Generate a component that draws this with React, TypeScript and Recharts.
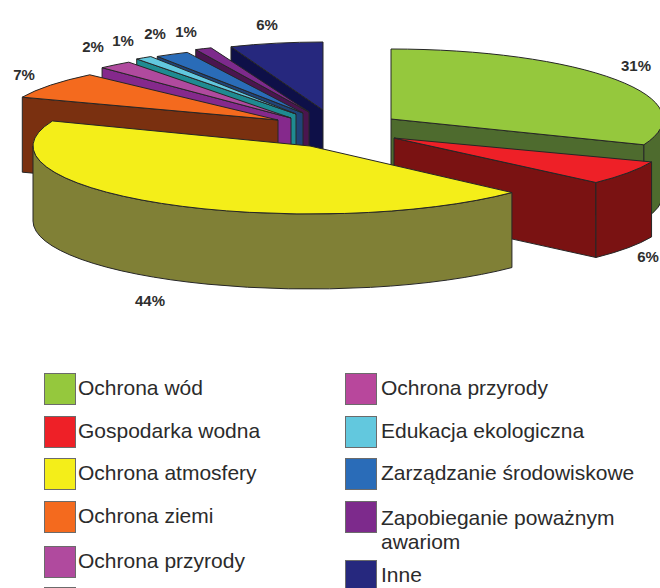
import React from 'react'
import { PieChart, Pie } from 'recharts'

const sliceNames = [
    'Ochrona wód',
    'Gospodarka wodna',
    'Ochrona atmosfery',
    'Ochrona ziemi',
    'Ochrona przyrody',
    'Edukacja ekologiczna',
    'Zarządzanie środowiskowe',
    'Zapobieganie poważnym awariom',
    'Inne',
]
const sliceValues = [31, 6, 44, 7, 2, 1, 2, 1, 6]

const topColors = ['#95c83d', '#ee2027', '#f4ee19', '#f46a1e', '#b04a9e', '#62c8de', '#2a6cb8', '#7d2a8c', '#26287e']
const wallColors = ['#4e6b2e', '#7a1212', '#808036', '#7a3010', '#85298c', '#1f8b91', '#1f4478', '#4a154f', '#0e1048']

// how far each slice is pulled away from the pie centre, and its own flattened radii
const sliceOffsets = [[81, -1], [84, 18], [0, 26], [-32, 0], [-19, -2], [-14, -6], [-7, -7], [-1, -8], [13, -10]]
const radiusX = [272, 277, 277, 275, 276, 271, 272, 266, 250]
const radiusY = [70, 65, 68, 62, 69, 68, 67, 69, 68]
const labelSpots = [[636, 71], [648, 262], [150, 306], [24, 80], [93, 52], [123, 46], [155, 39], [186, 37], [267, 30]]

const legendLeft = ['Ochrona wód', 'Gospodarka wodna', 'Ochrona atmosfery', 'Ochrona ziemi', 'Ochrona przyrody', '']
const legendLeftColors = ['#95c83d', '#ee2027', '#f4ee19', '#f46a1e', '#b04a9e', '#eeeeee']
const legendLeftTops = [373, 416, 458, 501, 546, 587]
const legendRight = ['Ochrona przyrody', 'Edukacja ekologiczna', 'Zarządzanie środowiskowe', 'Zapobieganie poważnym awariom', 'Inne']
const legendRightColors = ['#b8479c', '#62c8de', '#2a6cb8', '#7d2a8c', '#26287e']
const legendRightTops = [373, 416, 458, 501, 560]

const DEPTH = 75
const CENTER_X = 310
const CENTER_Y = 120
const OUTER_RADIUS = 272

const data = sliceNames.map((name, i) => ({ name, value: sliceValues[i], slice: i }))
const backSlices = [...data].reverse()
const isFront = (slice: number) => slice <= 2

const toRad = (deg: number) => (deg * Math.PI) / 180

const SliceShape = (props: any) => {
    const slice = props.payload?.slice ?? props.slice
    const front = props.front as boolean
    if (isFront(slice) !== front) return null

    const ax = props.cx + sliceOffsets[slice][0]
    const ay = props.cy + sliceOffsets[slice][1]
    const rx = radiusX[slice]
    const ry = radiusY[slice]
    // clockwise degrees from twelve o'clock
    const a = 90 - props.startAngle
    const b = 90 - props.endAngle
    const from = Math.min(a, b)
    const to = Math.max(a, b)
    const pt = (t: number, drop = 0) => [ax + rx * Math.sin(toRad(t)), ay - ry * Math.cos(toRad(t)) + drop]
    const arc = (t0: number, t1: number, drop = 0, reverse = false) => {
        const large = Math.abs(t1 - t0) > 180 ? 1 : 0
        const [x, y] = reverse ? pt(t0, drop) : pt(t1, drop)
        return `A${rx} ${ry} 0 ${large} ${reverse ? 0 : 1} ${x} ${y}`
    }
    const start = pt(from)
    const end = pt(to)
    const line = { stroke: '#262626', strokeWidth: 1, strokeLinejoin: 'round' as const }

    const wallFrom = Math.max(from, 90)
    const wallTo = Math.min(to, 270)
    const hasRim = wallTo > wallFrom
    const rimA = pt(wallFrom)
    const rimB = pt(wallTo, DEPTH)

    return (
        <g>
            {Math.sin(toRad(from)) < 0 && (
                <path
                    d={`M${ax} ${ay}L${start[0]} ${start[1]}L${start[0]} ${start[1] + DEPTH}L${ax} ${ay + DEPTH}Z`}
                    fill={wallColors[slice]}
                    {...line}
                />
            )}
            {Math.sin(toRad(to)) > 0 && (
                <path
                    d={`M${ax} ${ay}L${end[0]} ${end[1]}L${end[0]} ${end[1] + DEPTH}L${ax} ${ay + DEPTH}Z`}
                    fill={wallColors[slice]}
                    {...line}
                />
            )}
            {hasRim && (
                <path
                    d={`M${rimA[0]} ${rimA[1]}${arc(wallFrom, wallTo)}L${rimB[0]} ${rimB[1]}${arc(wallFrom, wallTo, DEPTH, true)}Z`}
                    fill={wallColors[slice]}
                    {...line}
                />
            )}
            <path
                d={`M${ax} ${ay}L${start[0]} ${start[1]}${arc(from, to)}Z`}
                fill={topColors[slice]}
                {...line}
            />
        </g>
    )
}

const renderLabel = (props: any) => {
    const slice = props.payload?.slice ?? props.slice
    const front = props.front as boolean
    if (isFront(slice) !== front) return null
    const [x, y] = labelSpots[slice]
    return (
        <text x={x} y={y} textAnchor="middle" fontFamily="'Liberation Sans', Arial, sans-serif" fontSize={15} fontWeight="bold" fill="#2e2e2e">
            {`${sliceValues[slice]}%`}
        </text>
    )
}

const LegendColumn = ({ names, colors, tops, left, textLeft }: any) => (
    <>
        {names.map((name: string, i: number) => (
            <React.Fragment key={i}>
                <div
                    style={{
                        position: 'absolute',
                        left,
                        top: tops[i],
                        width: 30,
                        height: 30,
                        background: colors[i],
                        border: '1px solid #6b6b6b',
                    }}
                />
                <div
                    style={{
                        position: 'absolute',
                        left: textLeft,
                        top: tops[i] + (name.startsWith('Zapob') ? 5 : 3),
                        width: 270,
                        fontFamily: "'Liberation Sans', Arial, sans-serif",
                        fontSize: 21,
                        lineHeight: '24px',
                        color: '#2b2b2b',
                    }}
                >
                    {name}
                </div>
            </React.Fragment>
        ))}
    </>
)

const App = () => {
    return (
        <div style={{ position: 'absolute', left: 0, top: 0, width: 660, height: 588, overflow: 'hidden', background: '#fff' }}>
            <PieChart
                width={660}
                height={340}
                margin={{ top: 0, right: 0, bottom: 0, left: 0 }}
                style={{ position: 'absolute', left: 0, top: 0 }}
            >
                <Pie
                    data={backSlices}
                    dataKey="value"
                    nameKey="name"
                    cx={CENTER_X}
                    cy={CENTER_Y}
                    outerRadius={OUTER_RADIUS}
                    startAngle={90}
                    endAngle={450}
                    isAnimationActive={false}
                    shape={(p: any) => <SliceShape {...p} front={false} />}
                    label={(p: any) => renderLabel({ ...p, front: false })}
                    labelLine={false}
                />
                <Pie
                    data={data}
                    dataKey="value"
                    nameKey="name"
                    cx={CENTER_X}
                    cy={CENTER_Y}
                    outerRadius={OUTER_RADIUS}
                    startAngle={90}
                    endAngle={-270}
                    isAnimationActive={false}
                    shape={(p: any) => <SliceShape {...p} front={true} />}
                    label={(p: any) => renderLabel({ ...p, front: true })}
                    labelLine={false}
                />
            </PieChart>
            <LegendColumn names={legendLeft} colors={legendLeftColors} tops={legendLeftTops} left={44} textLeft={78} />
            <LegendColumn names={legendRight} colors={legendRightColors} tops={legendRightTops} left={345} textLeft={381} />
        </div>
    )
}

export default App
